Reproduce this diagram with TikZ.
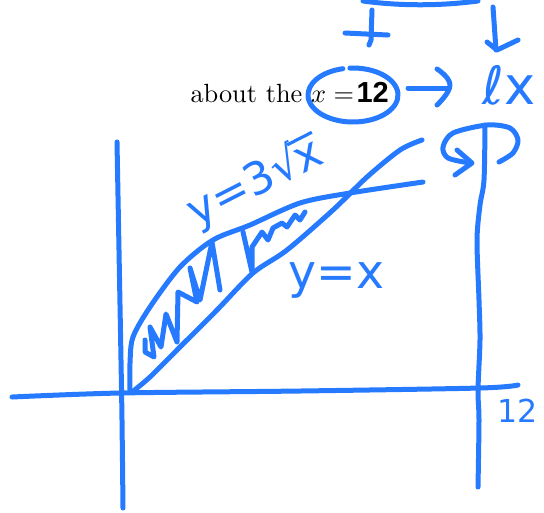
\documentclass[tikz,border=0pt]{standalone}
\usepackage{fontspec}
\newfontfamily\handfont{DejaVu Sans}
\newfontfamily\boldhand{Liberation Sans Bold}
\definecolor{pen}{RGB}{38,122,255}
\begin{document}
\begin{tikzpicture}[x=0.38pt,y=-0.38pt,
  ink/.style={draw=pen,line width=1.9pt,line cap=round,line join=round},
  handtext/.style={text=pen,inner sep=0pt}]
\useasboundingbox (0,0) rectangle (544,512);
% top partial curve
\draw[ink] (363,1) .. controls (400,6) and (440,6) .. (478,1);
% plus sign
\draw[ink] (345,33) -- (388,35);
\draw[ink] (372,10) -- (371,40) -- (369,45);
% down arrow
\draw[ink] (493,7) -- (496,50);
\draw[ink] (487,42) -- (497,50) -- (518,40);
% text
\node[anchor=base west,inner sep=0pt] (about) at (190,102) {about the $x=$};
\node[anchor=base west,inner sep=0pt,font=\boldhand\fontsize{11}{13}\selectfont] (twelve) at ([xshift=0.6pt]about.base east) {12};
% ellipse around x = 12
\draw[ink] ([shift={(266:45 and 27)}]353,95) arc[start angle=266,end angle=617,x radius=45,y radius=27];
% right arrow
\draw[ink] (408,88) -- (447,88);
\draw[ink] plot[smooth,tension=0.8] coordinates {(437,69) (450,85) (437,105)};
% l x
\node[handtext,anchor=base west,font=\handfont\fontsize{20}{24}\selectfont] (lx) at (482,104) {ℓx};
% axes
\draw[ink] plot[smooth] coordinates {(117,142) (119,250) (121,360) (122,420) (123,508)};
\draw[ink] plot[smooth] coordinates {(12,397) (120,393) (300,391) (480,388) (518,385)};
% right vertical axis of rotation
\draw[ink] plot[smooth] coordinates {(485,125) (484,180) (480,205) (477,240) (479,300) (480,340) (478,390) (479,420) (478,487)};
% rotation arrow
\draw[ink] plot[smooth] coordinates {(499,162) (513,153) (518,140) (510,128) (487,125) (453,133) (443,147) (448,158) (470,163)};
\draw[ink] (457,150) -- (472,163) -- (455,175);
% 12 on axis
\node[handtext,anchor=base west,font=\handfont\fontsize{12}{14}\selectfont] (axtwelve) at (497,422) {12};
% y = x curve
\draw[ink] plot[smooth] coordinates {(132,392) (150,377) (180,347) (217,310) (253,273) (287,250) (333,210) (367,177) (400,150) (422,140)};
% y = 3 sqrt x curve
\draw[ink] plot[smooth] coordinates {(130,390) (130,363) (133,337) (150,307) (180,267) (213,240) (250,225) (300,203) (350,193) (423,182)};
% zigzag shading
\draw[ink] (145,340) -- (145,352) -- (154,357) -- (150,327) -- (161,347) -- (166,314) -- (177,342) -- (178,292) -- (197,302) -- (190,268) -- (200,300) -- (212,242) -- (220,290);
\draw[ink] (243,232) -- (252,272) -- (252,247) -- (262,232) -- (268,240) -- (273,228) -- (282,223) -- (287,227) -- (295,215) -- (300,220) -- (305,212);
% labels
\node[handtext,rotate=27,font=\handfont\fontsize{17}{20}\selectfont] (lblsqrt) at (255,183) {y=3√\kern-0.06em\rlap{\color{pen}\rule[0.70em]{0.62em}{0.07em}}x};
\node[handtext,anchor=base west,font=\handfont\fontsize{18}{22}\selectfont] (lblx) at (288,288) {y=x};
\end{tikzpicture}
\end{document}
